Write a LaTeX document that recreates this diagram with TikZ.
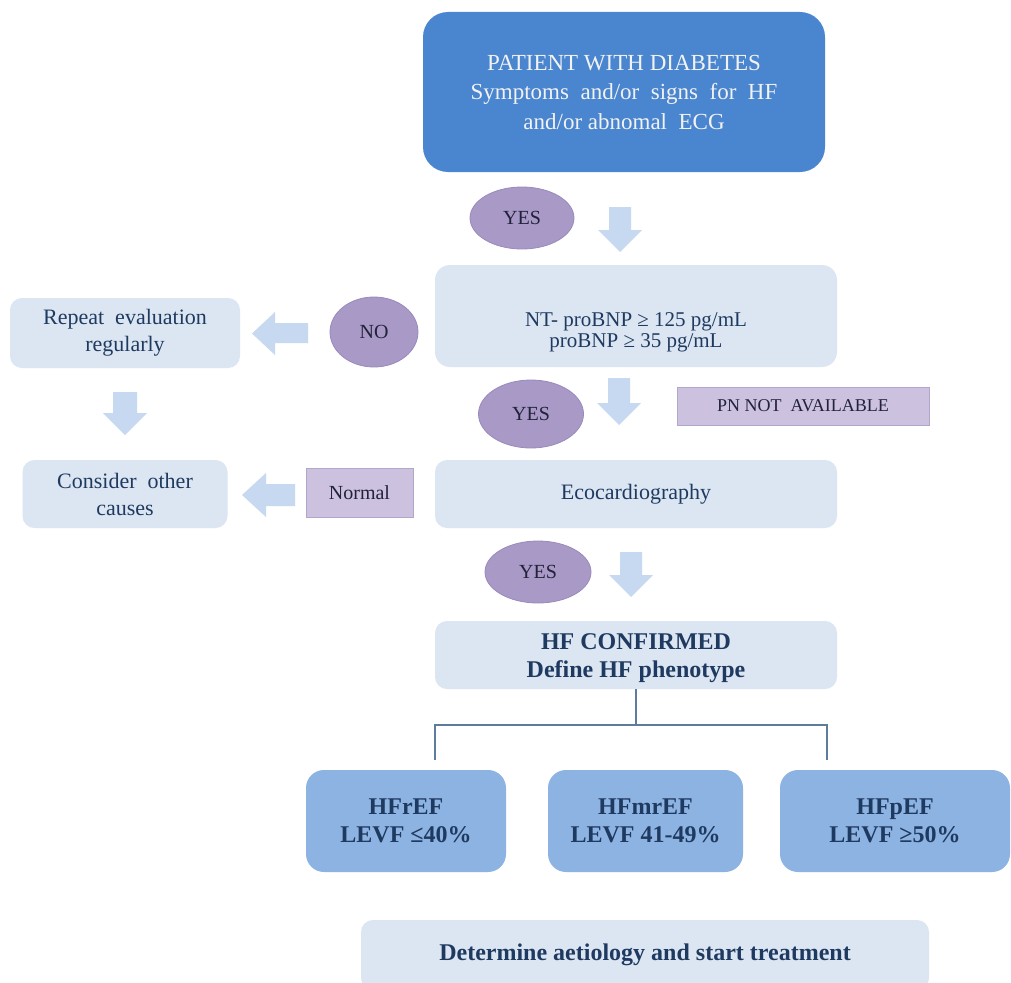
\documentclass[tikz,border=0pt]{standalone}
\usepackage{fontspec}
\setmainfont{Liberation Serif}
\usetikzlibrary{shapes.geometric}
\definecolor{topblue}{HTML}{4A85CF}
\definecolor{lightbox}{HTML}{DCE6F2}
\definecolor{arrowblue}{HTML}{C6D9F1}
\definecolor{midblue}{HTML}{8DB3E2}
\definecolor{ellfill}{HTML}{A899C6}
\definecolor{ellline}{HTML}{9A8ABB}
\definecolor{tagfill}{HTML}{CCC1DE}
\definecolor{tagline}{HTML}{B3A6CB}
\definecolor{navy}{HTML}{1F3A60}
\definecolor{darktxt}{HTML}{22223A}
\definecolor{conn}{HTML}{5F7C9C}
\tikzset{
  lbox/.style={rectangle, rounded corners=12pt, fill=lightbox, text=navy, align=center, inner sep=0pt},
  mbox/.style={rectangle, rounded corners=18pt, fill=midblue, text=navy, align=center, inner sep=0pt,
    minimum height=102pt, font=\fontsize{24}{28}\selectfont\bfseries},
  dec/.style={ellipse, fill=ellfill, draw=ellline, line width=0.8pt, text=darktxt, inner sep=0pt,
    font=\fontsize{20}{24}\selectfont},
  tag/.style={rectangle, fill=tagfill, draw=tagline, line width=0.8pt, text=darktxt, inner sep=0pt},
  plaintext/.style={text=navy, align=center, inner sep=0pt},
  blockarrow/.style={fill=arrowblue, draw=none},
  connector/.style={draw=conn, line width=1.4pt}
}
\begin{document}
\begin{tikzpicture}[x=1pt, y=-1pt]
\useasboundingbox (0,0) rectangle (1011,982);
\fill[white] (0,0) rectangle (1011,982);

% main boxes
\node[rectangle, rounded corners=25pt, fill=topblue, text=white!95!black, align=center,
  minimum width=402pt, minimum height=160pt, inner sep=0pt, font=\fontsize{23}{29.5}\selectfont]
  (top) at (624,92) {PATIENT WITH DIABETES\\Symptoms \ and/or \ signs \ for \ HF\\and/or abnomal \ ECG};
\node[lbox, rounded corners=15pt, minimum width=402pt, minimum height=102pt] (nt) at (636,316) {};
\node[plaintext, font=\fontsize{21}{21}\selectfont] (nttext) at ([yshift=-16pt]nt.center)
  {NT- proBNP ≥ 125 pg/mL\\proBNP ≥ 35 pg/mL};
\node[lbox, minimum width=230pt, minimum height=70pt, font=\fontsize{22}{27}\selectfont]
  (rep) at (125,333) {Repeat \ evaluation\\regularly};
\node[lbox, minimum width=205pt, minimum height=68pt, font=\fontsize{22}{27}\selectfont]
  (cons) at (125,494) {Consider \ other\\causes};
\node[lbox, minimum width=402pt, minimum height=68pt, font=\fontsize{22}{27}\selectfont]
  (eco) at (636,494) {Ecocardiography};
\node[lbox, minimum width=402pt, minimum height=68pt] (hf) at (636,655) {};
\node[plaintext, font=\fontsize{24}{28}\selectfont\bfseries] (hftext) at ([yshift=-3pt]hf.center)
  {HF CONFIRMED\\Define HF phenotype};
\node[lbox, minimum width=568pt, minimum height=70pt, font=\fontsize{24}{28}\selectfont\bfseries]
  (det) at (645,955) {Determine aetiology and start treatment};

% phenotype boxes
\node[mbox, minimum width=200pt] (hfr) at (406,821) {HFrEF\\LEVF ≤40\%};
\node[mbox, minimum width=195pt] (hfm) at (645.5,821) {HFmrEF\\LEVF 41-49\%};
\node[mbox, minimum width=230pt] (hfp) at (895,821) {HFpEF\\LEVF ≥50\%};

% decision ellipses and tags
\node[dec, minimum width=104pt, minimum height=62pt] (yes1) at (522,218) {YES};
\node[dec, minimum width=88pt, minimum height=70pt] (no) at (374,332) {NO};
\node[dec, minimum width=105pt, minimum height=68pt] (yes2) at (531,414) {YES};
\node[dec, minimum width=106pt, minimum height=62pt] (yes3) at (538,572) {YES};
\node[tag, minimum width=107pt, minimum height=49pt, font=\fontsize{20}{24}\selectfont]
  (normal) at (359.5,492.5) {Normal};
\node[tag, minimum width=252pt, minimum height=38pt, font=\fontsize{18}{22}\selectfont]
  (pn) at (803,406) {PN NOT \ AVAILABLE};

% block arrows (down)
\path[blockarrow] (609,207) -- (631,207) -- (631,230) -- (642,230) -- (620,252) -- (598,230) -- (609,230) -- cycle;
\path[blockarrow] (608,378) -- (630,378) -- (630,403) -- (641,403) -- (619,425) -- (597,403) -- (608,403) -- cycle;
\path[blockarrow] (620,552) -- (642,552) -- (642,575) -- (653,575) -- (631,597) -- (609,575) -- (620,575) -- cycle;
\path[blockarrow] (113,392) -- (137,392) -- (137,413) -- (147,413) -- (125,435) -- (103,413) -- (113,413) -- cycle;
% block arrows (left)
\path[blockarrow] (308,323) -- (308,343) -- (275,343) -- (275,355) -- (252,333.5) -- (275,312) -- (275,323) -- cycle;
\path[blockarrow] (295,484) -- (295,506) -- (266,506) -- (266,517) -- (242,495) -- (266,473) -- (266,484) -- cycle;

% connectors from HF CONFIRMED to phenotype boxes
\coordinate (jl) at (435,760);
\coordinate (jr) at (827,760);
\coordinate (jm) at (636,725);
\draw[connector] (hf.south) -- (jm);
\draw[connector] (jl) |- (jm) -| (jr);
\end{tikzpicture}
\end{document}
